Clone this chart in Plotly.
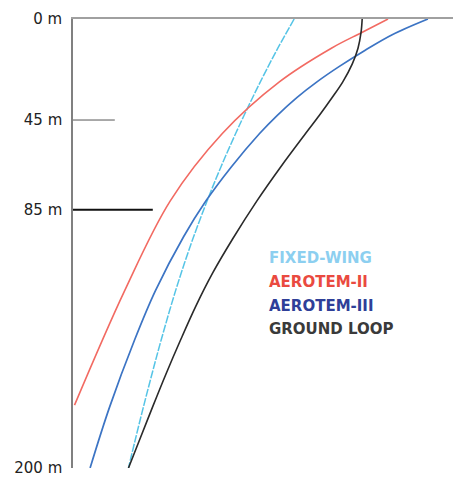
import plotly.graph_objects as go

# Depth (m) and relative response (arbitrary units, 0-100 across the panel)
fw_depth = [0, 13, 28, 43, 51, 66, 81, 101, 121, 143, 158, 173, 188, 200]
fw_val = [58.2, 53.9, 49.3, 45.0, 42.8, 38.9, 35.3, 30.9, 27.0, 23.2, 20.8, 18.5, 16.3, 14.6]

a2_depth = [0, 6, 13, 28, 51, 81, 121, 172]
a2_val = [82.9, 76.0, 68.0, 54.3, 39.3, 25.6, 13.6, 0.4]

a3_depth = [0, 7, 14, 21, 28, 35, 43, 51, 66, 81, 97, 121, 143, 173, 200]
a3_val = [93.4, 84.0, 76.8, 70.2, 64.2, 58.9, 53.7, 49.1, 41.6, 35.0, 29.1, 21.7, 16.2, 9.6, 4.5]

gl_depth = [0, 6, 13, 20, 28, 35, 43, 51, 66, 81, 98, 113, 128, 143, 158, 173, 188, 200]
gl_val = [76.1, 75.8, 75.0, 73.5, 71.0, 68.2, 64.8, 61.2, 54.6, 48.4, 42.0, 36.8, 32.3, 28.3, 24.5, 20.9, 17.4, 14.6]

tick_depths = [0, 45, 85, 200]
tick_labels = ["0 m", "45 m", "85 m", "200 m"]

legend_names = ["FIXED-WING", "AEROTEM-II", "AEROTEM-III", "GROUND LOOP"]
legend_colors = ["#8ccff0", "#ea4a40", "#2f3f98", "#3a3a3a"]

fig = go.Figure()
fig.add_trace(go.Scatter(x=fw_val, y=fw_depth, mode="lines", line=dict(color="#55c4e6", width=1.5, dash="8px,1.5px", shape="spline")))
fig.add_trace(go.Scatter(x=a2_val, y=a2_depth, mode="lines", line=dict(color="#f26a62", width=1.6, shape="spline")))
fig.add_trace(go.Scatter(x=a3_val, y=a3_depth, mode="lines", line=dict(color="#3c74c4", width=1.7, shape="spline")))
fig.add_trace(go.Scatter(x=gl_val, y=gl_depth, mode="lines", line=dict(color="#2a2a2a", width=1.6, shape="spline")))

# depth tick marks
fig.add_shape(type="line", xref="x", yref="y", x0=0, x1=11, y0=45, y1=45, line=dict(color="#555", width=1))
fig.add_shape(type="line", xref="x", yref="y", x0=0, x1=21, y0=85, y1=85, line=dict(color="#111", width=2))

leg_y = [258, 282, 306, 329]
for name, col, py in zip(legend_names, legend_colors, leg_y):
    fig.add_annotation(text="<b>" + name + "</b>", xref="paper", yref="paper",
                       x=(267 - 73) / 380, y=1 - (py - 19) / 449,
                       xanchor="left", yanchor="middle", showarrow=False,
                       font=dict(family="DejaVu Sans", size=15, color=col))

fig.update_layout(
    width=453, height=478,
    margin=dict(l=73, r=0, t=19, b=10),
    paper_bgcolor="white", plot_bgcolor="white",
    showlegend=False,
    xaxis=dict(range=[0, 100], side="top", showline=True, linecolor="#a0a0a0", linewidth=1.5,
               showgrid=False, zeroline=False, showticklabels=False, ticks=""),
    yaxis=dict(range=[200, 0], showline=True, linecolor="#808080", linewidth=1.5,
               showgrid=False, zeroline=False, tickvals=tick_depths, ticktext=tick_labels,
               ticks="", ticklabelstandoff=6,
               tickfont=dict(family="DejaVu Sans", size=15, color="#222")),
)

fig.write_html("out.html", config={"displayModeBar": False},
               post_script="document.body.style.margin='0';document.body.style.overflow='hidden';")
